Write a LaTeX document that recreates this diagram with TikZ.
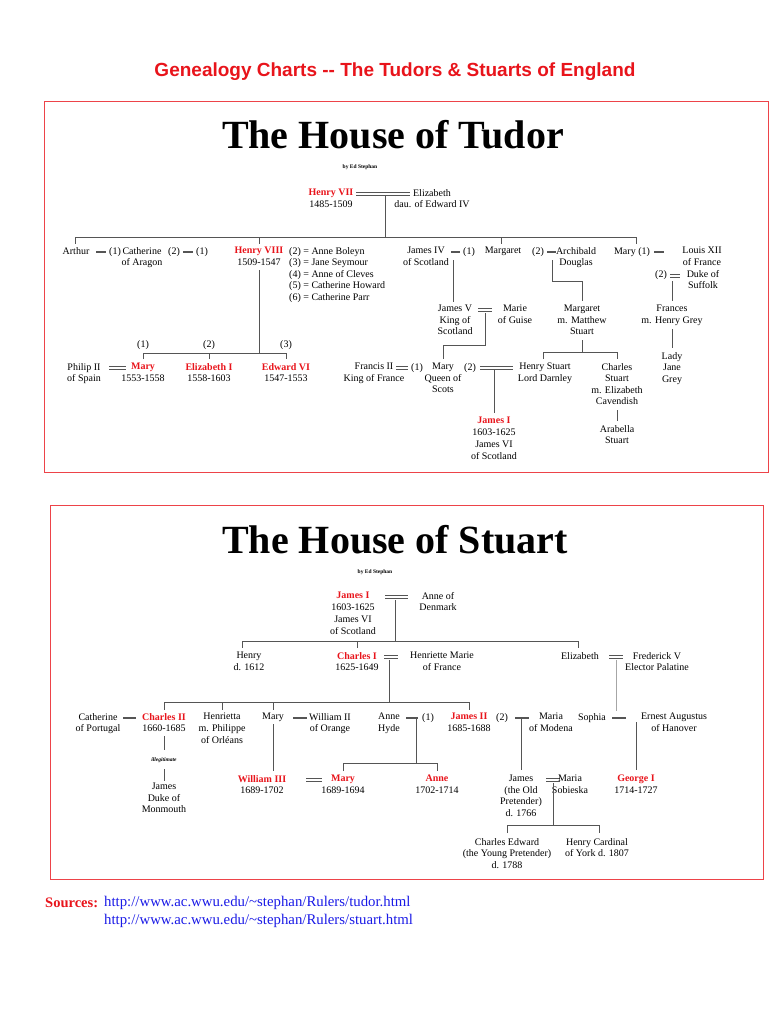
\documentclass[tikz,border=0pt]{standalone}
\usepackage{fontspec}
\setmainfont{Liberation Serif}
\newfontfamily\arialf{Liberation Sans}
\definecolor{rd}{HTML}{E8141B}
\definecolor{ln}{HTML}{555555}
\definecolor{lk}{HTML}{1A1AE6}
\newcommand{\dbl}[3]{\draw[ln,line width=1.1pt] (#1,#3-1.6)--(#2,#3-1.6) (#1,#3+1.6)--(#2,#3+1.6);}
\newcommand{\sgl}[3]{\draw[ln,line width=1.6pt] (#1,#3)--(#2,#3);}
\begin{document}
\begin{tikzpicture}[x=1pt,y=-1pt,
  t/.style={anchor=north,align=center,inner sep=0pt,font=\fontsize{10}{11.6}\selectfont},
  tl/.style={t,anchor=north west,align=left},
  r/.style={t,text=rd,font=\fontsize{10}{11.6}\selectfont\bfseries},
  lin/.style={ln,line width=0.9pt},
  ttl/.style={inner sep=0pt,font=\fontsize{40}{44}\selectfont\bfseries},
  by/.style={inner sep=0pt,font=\fontsize{5.5}{6}\selectfont\bfseries}]
\useasboundingbox (0,0) rectangle (768,1024);
\node[inner sep=0pt,text=rd,font=\arialf\fontsize{19}{22}\selectfont\bfseries] (hdr) at (395,72) {Genealogy Charts -- The Tudors \& Stuarts of England};
\draw[rd!80,line width=0.9pt] (44,101) rectangle (768,472);
\draw[rd!80,line width=0.9pt] (50,505) rectangle (763,879);
% ---------- Tudor
\node[ttl] (tt) at (393,135) {The House of Tudor};
\node[by] (tb) at (360,167) {by Ed Stephan};
\node[r] (h7) at (331,189) {Henry VII};
\node[t] (h7d) at (331,201) {1485-1509};
\node[t] (eliz) at (432,189) {Elizabeth\\dau. of Edward IV};
\dbl{356}{410}{194}
\draw[lin] (385,196)--(385,237);
\draw[lin] (75,237)--(636,237);
\foreach \x in {75,259,501,636} \draw[lin] (\x,237)--(\x,244);
\node[t] (arthur) at (76,247) {Arthur};
\sgl{96}{106}{252}
\node[t] (a1) at (115,247) {(1)};
\node[t] (cath) at (142,247) {Catherine\\of Aragon};
\node[t] (a2) at (174,247) {(2)};
\sgl{183}{193}{252}
\node[t] (a3) at (202,247) {(1)};
\node[r] (h8) at (259,247) {Henry VIII};
\node[t] (h8d) at (259,259) {1509-1547};
\node[tl] (wives) at (289,247) {(2) = Anne Boleyn\\(3) = Jane Seymour\\(4) = Anne of Cleves\\(5) = Catherine Howard\\(6) = Catherine Parr};
\node[t] (j4) at (426,247) {James IV\\of Scotland};
\sgl{451}{460}{252}
\node[t] (m1) at (469,247) {(1)};
\node[t] (marg) at (503,247) {Margaret};
\node[t] (m2) at (538,247) {(2)};
\sgl{547}{556}{252}
\node[t] (arch) at (576,247) {Archibald\\Douglas};
\node[t] (maryt) at (632,247) {Mary (1)};
\sgl{654}{664}{252}
\node[t] (louis) at (702,247) {Louis XII\\of France};
\node[t] (s2) at (661,270) {(2)};
\dbl{670}{680}{276}
\node[t] (suff) at (703,270) {Duke of\\Suffolk};
\draw[lin] (453,260)--(453,302);
\node[t] (j5) at (455,305) {James V\\King of\\Scotland};
\dbl{478}{492}{310}
\node[t] (guise) at (515,305) {Marie\\of Guise};
\draw[lin] (485,313)--(485,345)--(443,345)--(443,359);
\draw[lin] (552,260)--(552,281)--(582,281)--(582,301);
\node[t] (mms) at (582,305) {Margaret\\m. Matthew\\Stuart};
\draw[lin] (582,340)--(582,352) (543,359)--(543,352)--(617,352)--(617,359);
\draw[lin] (672,281)--(672,301);
\node[t] (fran) at (672,305) {Frances\\m. Henry Grey};
\draw[lin] (672,329)--(672,348);
\node[t] (ljg) at (672,352) {Lady\\Jane\\Grey};
\node[t] (fr2) at (374,363) {Francis II\\King of France};
\dbl{396}{408}{368}
\node[t] (q1) at (417,363) {(1)};
\node[t] (mqs) at (443,363) {Mary\\Queen of\\Scots};
\node[t] (q2) at (470,363) {(2)};
\dbl{480}{513}{368}
\node[t] (darn) at (545,363) {Henry Stuart\\Lord Darnley};
\node[t] (chs) at (617,363) {Charles\\Stuart\\m. Elizabeth\\Cavendish};
\draw[lin] (617,410)--(617,421);
\node[t] (arab) at (617,425) {Arabella\\Stuart};
\draw[lin] (494,370)--(494,413);
\node[r] (j1t) at (494,417) {James I};
\node[t] (j1td) at (494,429) {1603-1625\\James VI\\of Scotland};
\draw[lin] (259,270)--(259,353);
\draw[lin] (143,359)--(143,353)--(286,353)--(286,359) (209,353)--(209,359);
\node[t] (c1) at (143,340) {(1)};
\node[t] (c2) at (209,340) {(2)};
\node[t] (c3) at (286,340) {(3)};
\node[t] (phil) at (84,363) {Philip II\\of Spain};
\dbl{109}{126}{368}
\node[r] (mary1) at (143,363) {Mary};
\node[t] (mary1d) at (143,375) {1553-1558};
\node[r] (el1) at (209,363) {Elizabeth I};
\node[t] (el1d) at (209,375) {1558-1603};
\node[r] (ed6) at (286,363) {Edward VI};
\node[t] (ed6d) at (286,375) {1547-1553};
% ---------- Stuart
\node[ttl] (st) at (395,540) {The House of Stuart};
\node[by] (sb) at (375,572) {by Ed Stephan};
\node[r] (j1) at (353,592) {James I};
\node[t] (j1d) at (353,604) {1603-1625\\James VI\\of Scotland};
\dbl{385}{408}{597}
\node[t] (anned) at (438,592) {Anne of\\Denmark};
\draw[lin] (395,600)--(395,641);
\draw[lin] (242,641)--(578,641);
\foreach \x in {242,357,578} \draw[lin] (\x,641)--(\x,648);
\node[t] (henry) at (249,652) {Henry\\d. 1612};
\node[r] (c1s) at (357,652) {Charles I};
\node[t] (c1sd) at (357,664) {1625-1649};
\dbl{384}{398}{657}
\node[t] (hmf) at (442,652) {Henriette Marie\\of France};
\node[t] (elzs) at (580,652) {Elizabeth};
\dbl{609}{623}{657}
\node[t] (fred) at (657,652) {Frederick V\\Elector Palatine};
\draw[lin] (389,660)--(389,702);
\draw[lin] (164,702)--(469,702);
\foreach \x in {164,222,273,469} \draw[lin] (\x,702)--(\x,710);
\draw[gray!70,line width=0.9pt] (616,660)--(616,711);
\node[t] (cop) at (98,713) {Catherine\\of Portugal};
\sgl{123}{136}{718}
\node[r] (c2s) at (164,713) {Charles II};
\node[t] (c2sd) at (164,725) {1660-1685};
\node[t] (henr) at (222,713) {Henrietta\\m. Philippe\\of Orléans};
\node[t] (marys) at (273,713) {Mary};
\sgl{293}{307}{718}
\node[t] (w2) at (330,713) {William II\\of Orange};
\node[t] (ahyde) at (389,713) {Anne\\Hyde};
\sgl{406}{418}{718}
\node[t] (h1) at (428,713) {(1)};
\node[r] (j2) at (469,713) {James II};
\node[t] (j2d) at (469,725) {1685-1688};
\node[t] (h2) at (502,713) {(2)};
\sgl{515}{529}{718}
\node[t] (mmod) at (551,713) {Maria\\of Modena};
\node[t] (soph) at (592,713) {Sophia};
\sgl{612}{626}{718}
\node[t] (ea) at (674,713) {Ernest Augustus\\of Hanover};
\draw[lin] (636,722)--(636,770);
\node[r] (g1) at (636,775) {George I};
\node[t] (g1d) at (636,787) {1714-1727};
\draw[lin] (164,736)--(164,750) (164,769)--(164,781);
\node[inner sep=0pt,font=\fontsize{5.5}{6}\selectfont\itshape\bfseries] (illeg) at (164,760) {illegitimate};
\node[t] (jdm) at (164,783) {James\\Duke of\\Monmouth};
\draw[lin] (273,724)--(273,771);
\node[r] (w3) at (262,775) {William III};
\node[t] (w3d) at (262,787) {1689-1702};
\dbl{306}{322}{780}
\node[r] (mary2) at (343,775) {Mary};
\node[t] (mary2d) at (343,787) {1689-1694};
\draw[lin] (416,719)--(416,763);
\draw[lin] (343,771)--(343,763)--(437,763)--(437,771);
\node[r] (anne) at (437,775) {Anne};
\node[t] (anned2) at (437,787) {1702-1714};
\draw[lin] (521,719)--(521,770);
\node[t] (jop) at (521,775) {James\\(the Old\\Pretender)\\d. 1766};
\dbl{546}{560}{780}
\node[t] (msob) at (570,775) {Maria\\Sobieska};
\draw[lin] (553,783)--(553,825);
\draw[lin] (507,833)--(507,825)--(599,825)--(599,833);
\node[t] (cyp) at (507,838) {Charles Edward\\(the Young Pretender)\\d. 1788};
\node[t] (hcy) at (597,838) {Henry Cardinal\\of York d. 1807};
% ---------- sources
\node[anchor=west,inner sep=0pt,text=rd,font=\fontsize{14.5}{16}\selectfont\bfseries] (src) at (45,903) {Sources:};
\node[anchor=west,inner sep=0pt,text=lk,font=\fontsize{14.8}{16}\selectfont] (u1) at (104,903) {http://www.ac.wwu.edu/\textasciitilde stephan/Rulers/tudor.html};
\node[anchor=west,inner sep=0pt,text=lk,font=\fontsize{14.8}{16}\selectfont] (u2) at (104,921) {http://www.ac.wwu.edu/\textasciitilde stephan/Rulers/stuart.html};
\end{tikzpicture}
\end{document}
